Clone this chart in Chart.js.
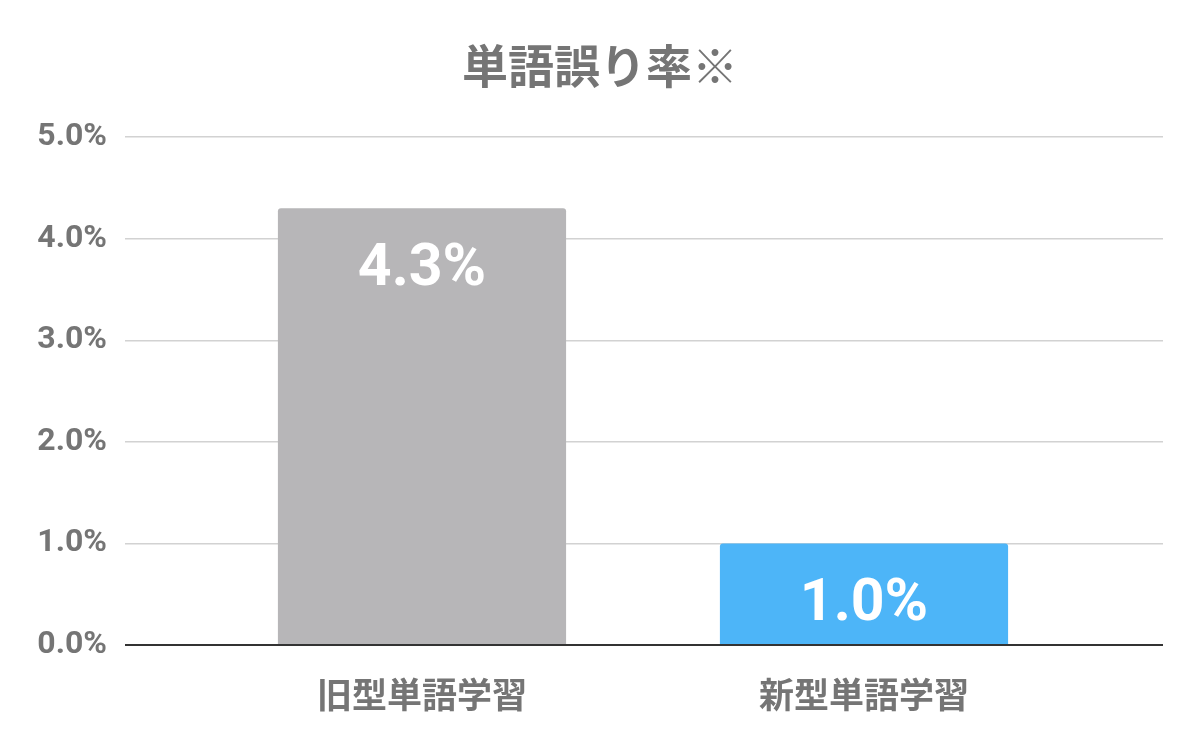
<!DOCTYPE html>
<html lang="ja">
<head>
  <meta charset="UTF-8">
  <title>単語誤り率</title>
  <script src="https://cdn.jsdelivr.net/npm/chart.js"></script>
  <style>
    body { margin: 0; background: #fff; }
    #wrap { width: 1200px; height: 742px; }
  </style>
</head>
<body>
  <div id="wrap">
    <canvas id="errChart" width="1200" height="742"></canvas>
  </div>
  <script>
    // データ
    const categories = ['旧型単語学習', '新型単語学習'];
    const errorRates = [4.3, 1.0];
    const barColors = ['#b7b6b8', '#4db5f8'];
    const yTicks = [0, 1, 2, 3, 4, 5];

    const textGray = '#757575';
    const numFont = 'Roboto, "Liberation Sans", sans-serif';
    const jpFont = '"Noto Sans CJK JP", "Noto Sans", sans-serif';

    const gridColor = ctx => ctx.tick && ctx.tick.value === 0 ? '#333333' : '#d2d2d2';
    const gridWidth = ctx => ctx.tick && ctx.tick.value === 0 ? 2 : 1.5;

    // バー内のラベル
    const barLabels = {
      id: 'barLabels',
      afterDatasetsDraw(chart) {
        const ctx = chart.ctx;
        const meta = chart.getDatasetMeta(0);
        ctx.save();
        ctx.fillStyle = '#ffffff';
        ctx.font = 'bold 59px ' + numFont;
        ctx.textAlign = 'center';
        ctx.textBaseline = 'middle';
        meta.data.forEach((bar, i) => {
          ctx.fillText(errorRates[i].toFixed(1) + '%', bar.x, bar.y + 62);
        });
        ctx.restore();
      }
    };

    new Chart(document.getElementById('errChart'), {
      type: 'bar',
      data: {
        labels: categories,
        datasets: [{
          data: errorRates,
          backgroundColor: barColors,
          borderRadius: 3,
          categoryPercentage: 1,
          barPercentage: 0.652
        }]
      },
      options: {
        responsive: false,
        animation: false,
        layout: { padding: 0 },
        plugins: {
          legend: { display: false },
          tooltip: { enabled: false },
          title: {
            display: true,
            text: '単語誤り率※',
            color: textGray,
            font: { family: jpFont, size: 46, weight: 'bold' },
            padding: { top: 38, bottom: 44 }
          }
        },
        scales: {
          x: {
            grid: { display: false },
            border: { display: false },
            ticks: {
              color: textGray,
              padding: 21,
              font: { family: jpFont, size: 35, weight: 'bold' }
            },
            afterFit(s) { s.height = 97; }
          },
          y: {
            min: 0,
            max: 5,
            afterBuildTicks(s) { s.ticks = yTicks.map(v => ({ value: v })); },
            grid: { color: gridColor, lineWidth: gridWidth, tickLength: 76 },
            border: { display: false },
            ticks: {
              color: textGray,
              padding: 18,
              font: { family: numFont, size: 32, weight: 'bold' },
              callback: v => v.toFixed(1) + '%'
            },
            afterFit(s) { s.width = 201; }
          },
          y2: {
            position: 'right',
            min: 0,
            max: 5,
            afterBuildTicks(s) { s.ticks = yTicks.map(v => ({ value: v })); },
            grid: { color: gridColor, lineWidth: gridWidth, tickLength: 78, drawOnChartArea: false },
            border: { display: false },
            ticks: { display: false },
            afterFit(s) { s.width = 115; }
          }
        }
      },
      plugins: [barLabels]
    });
  </script>
</body>
</html>
